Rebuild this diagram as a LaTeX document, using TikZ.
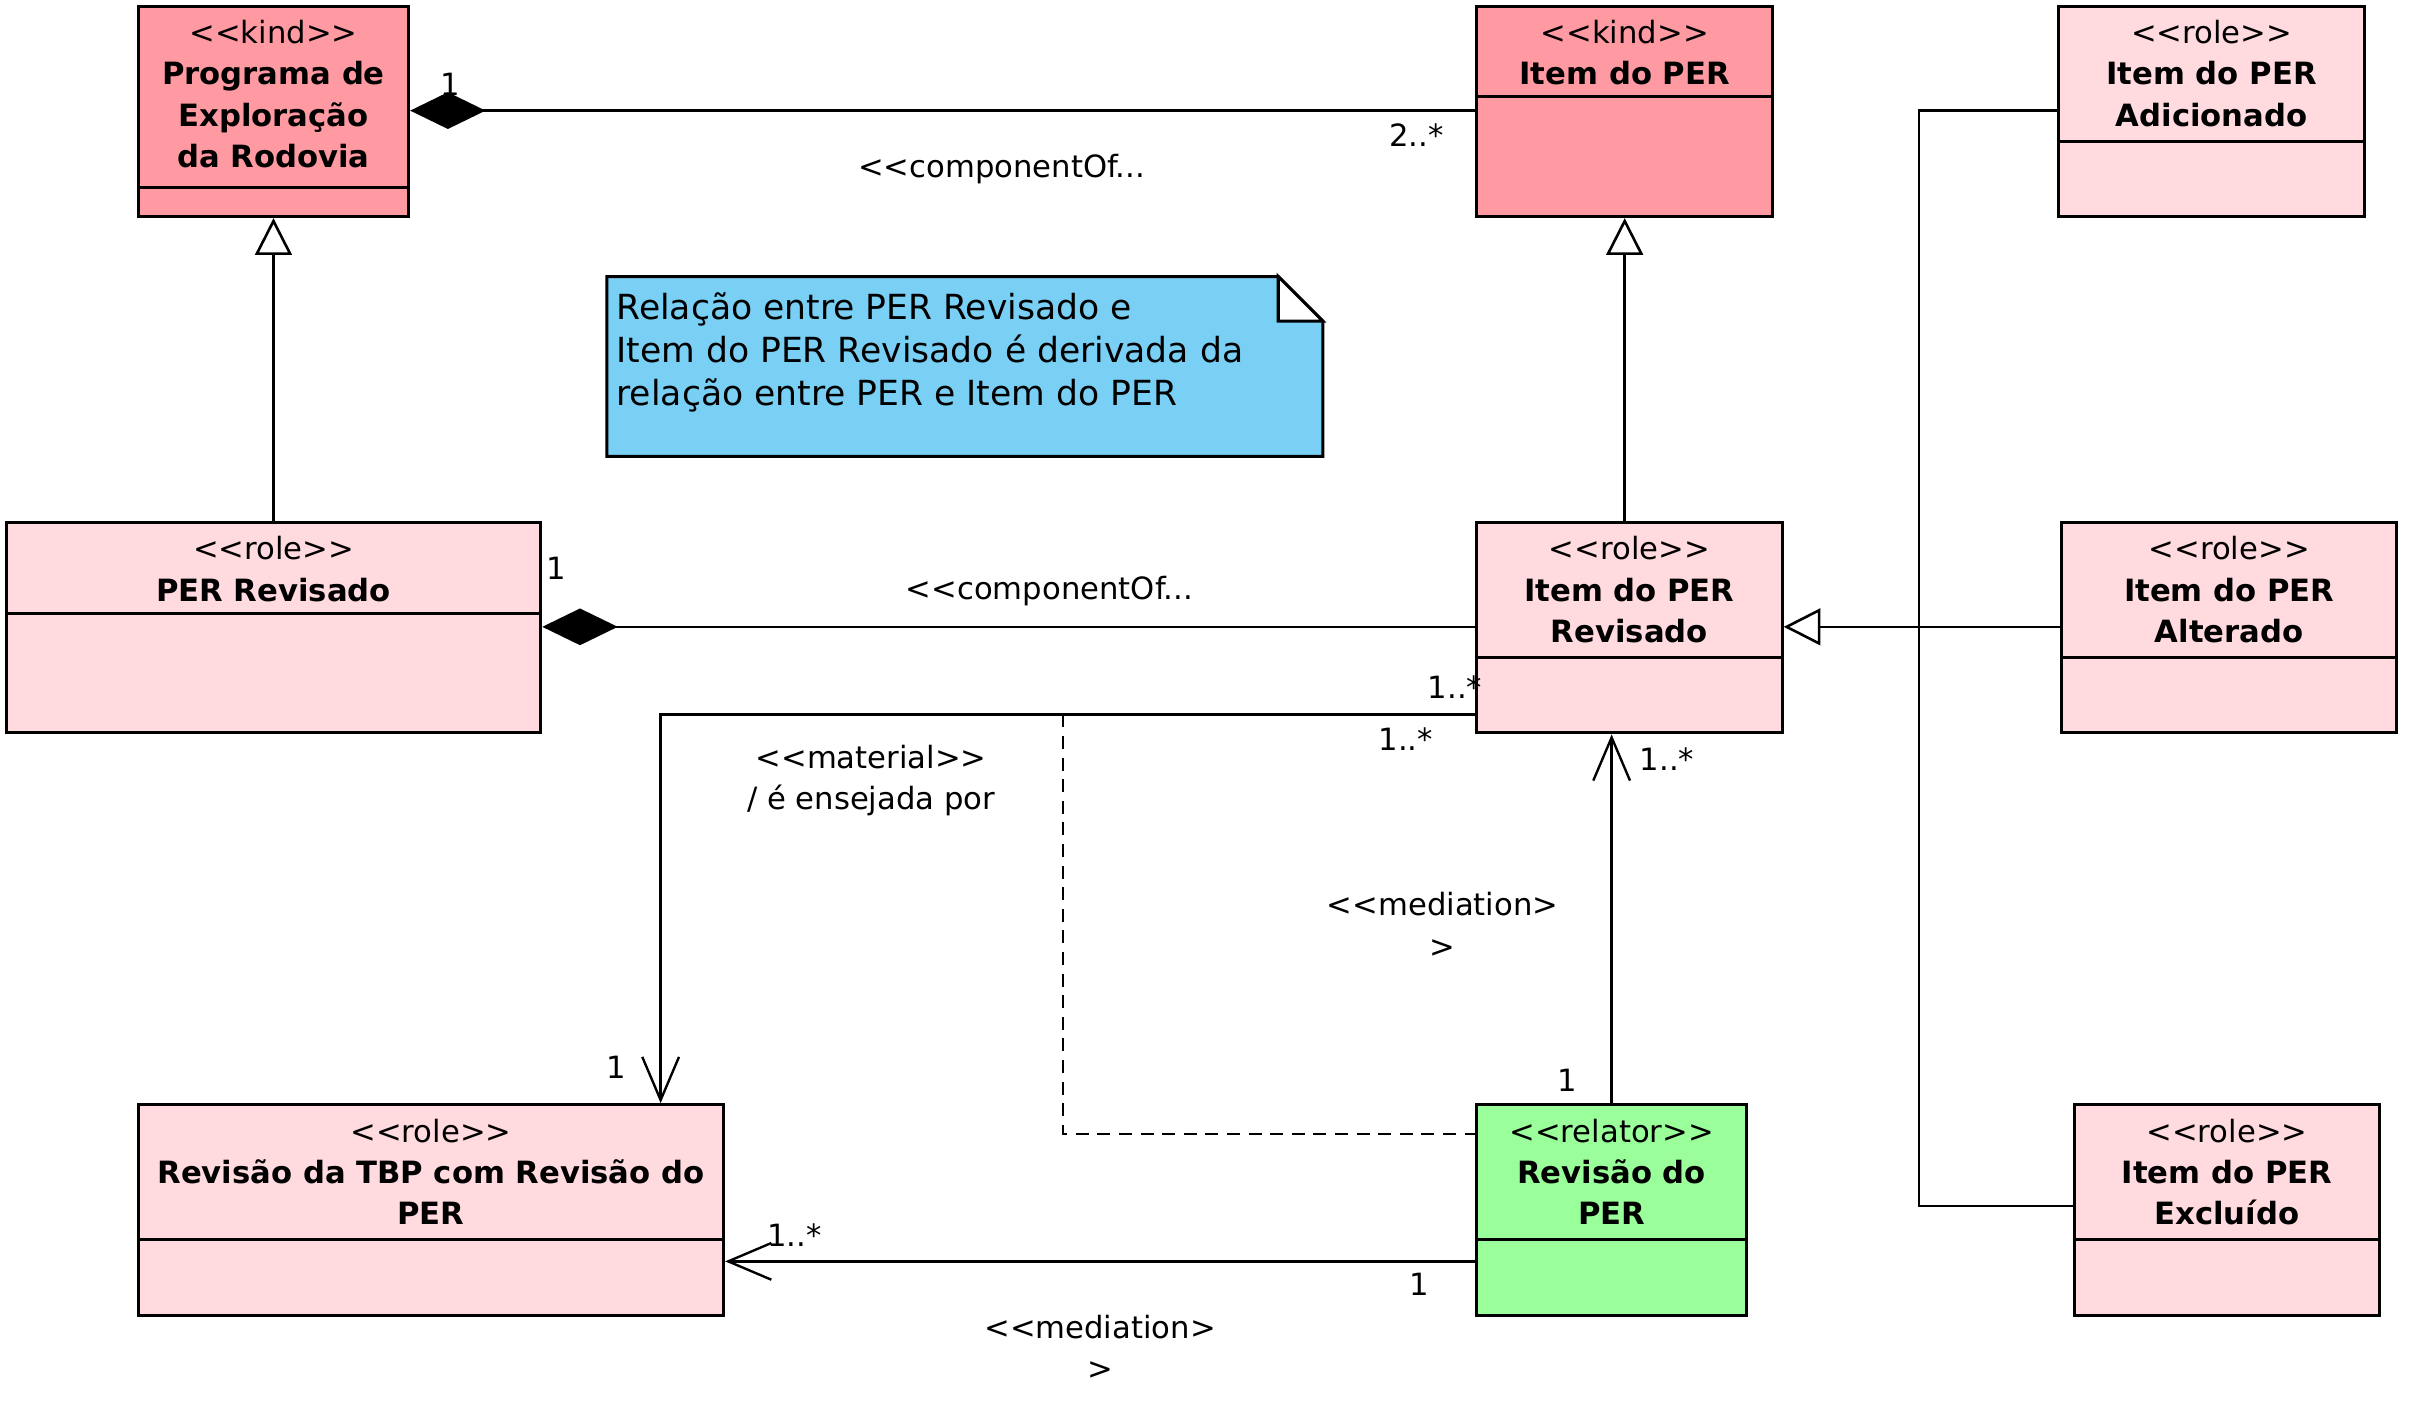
\documentclass[tikz,border=0pt]{standalone}
\usepackage{fontspec}
\setmainfont{DejaVu Sans}
\usetikzlibrary{arrows.meta,fit}
\definecolor{kindcol}{HTML}{FF9AA2}
\definecolor{rolecol}{HTML}{FFDADE}
\definecolor{relatorcol}{HTML}{9AFF9A}
\definecolor{notecol}{HTML}{7ACFF5}
% stereotype brackets, kept apart so they stay plain < and >
\newcommand{\stt}[1]{<\kern0pt<#1>\kern0pt>}
\tikzset{
  cls/.style={draw, line width=1.4pt, inner sep=0pt},
  txt/.style={font=\fontsize{14.2}{19.2}\selectfont, inner sep=0pt, align=center},
  head/.style={txt, anchor=north, yshift=-7pt},
  mult/.style={txt},
  compo/.style={{Diamond[length=34.9pt,width=17pt]}-, line width=1.2pt},
  gen/.style={-{Triangle[open,length=17pt,width=17pt]}, line width=1.2pt},
  assoc/.style={-{Straight Barb[length=20pt,width=17pt]}, line width=1.1pt},
}
\begin{document}
\begin{tikzpicture}[x=0.025cm, y=-0.025cm]
  \useasboundingbox (0,0) rectangle (1568,916);

  % classes
  \node[cls, fill=kindcol, fit={(90,4) (266,141)}] (prog) {};
  \node[cls, fill=kindcol, fit={(961,4) (1154,141)}] (item) {};
  \node[cls, fill=rolecol, fit={(1340,4) (1539,141)}] (itemadd) {};
  \node[cls, fill=rolecol, fit={(4,340) (352,477)}] (perrev) {};
  \node[cls, fill=rolecol, fit={(961,340) (1160,477)}] (itemrev) {};
  \node[cls, fill=rolecol, fit={(1342,340) (1560,477)}] (itemalt) {};
  \node[cls, fill=rolecol, fit={(90,719) (471,856)}] (tbp) {};
  \node[cls, fill=relatorcol, fit={(961,719) (1137,856)}] (revper) {};
  \node[cls, fill=rolecol, fit={(1350,719) (1549,856)}] (itemexc) {};

  \draw[line width=1.4pt] (prog.west |- 0,122) -- (prog.east |- 0,122);
  \draw[line width=1.4pt] (item.west |- 0,63) -- (item.east |- 0,63);
  \draw[line width=1.4pt] (itemadd.west |- 0,92) -- (itemadd.east |- 0,92);
  \draw[line width=1.4pt] (perrev.west |- 0,399) -- (perrev.east |- 0,399);
  \draw[line width=1.4pt] (itemrev.west |- 0,428) -- (itemrev.east |- 0,428);
  \draw[line width=1.4pt] (itemalt.west |- 0,428) -- (itemalt.east |- 0,428);
  \draw[line width=1.4pt] (tbp.west |- 0,807) -- (tbp.east |- 0,807);
  \draw[line width=1.4pt] (revper.west |- 0,807) -- (revper.east |- 0,807);
  \draw[line width=1.4pt] (itemexc.west |- 0,807) -- (itemexc.east |- 0,807);

  \node[head] (progtxt) at (prog.north) {\stt{kind}\\\textbf{Programa de}\\\textbf{Exploração}\\\textbf{da Rodovia}};
  \node[head] (itemtxt) at (item.north) {\stt{kind}\\\textbf{Item do PER}};
  \node[head] (itemaddtxt) at (itemadd.north) {\stt{role}\\\textbf{Item do PER}\\\textbf{Adicionado}};
  \node[head] (perrevtxt) at (perrev.north) {\stt{role}\\\textbf{PER Revisado}};
  \node[head] (itemrevtxt) at (itemrev.north) {\stt{role}\\\textbf{Item do PER}\\\textbf{Revisado}};
  \node[head] (itemalttxt) at (itemalt.north) {\stt{role}\\\textbf{Item do PER}\\\textbf{Alterado}};
  \node[head] (tbptxt) at (tbp.north) {\stt{role}\\\textbf{Revisão da TBP com Revisão do}\\\textbf{PER}};
  \node[head] (revpertxt) at (revper.north) {\stt{relator}\\\textbf{Revisão do}\\\textbf{PER}};
  \node[head] (itemexctxt) at (itemexc.north) {\stt{role}\\\textbf{Item do PER}\\\textbf{Excluído}};

  % note
  \draw[line width=1.4pt, fill=notecol] (395,180) -- (832,180) -- (861,209) -- (861,297) -- (395,297) -- cycle;
  \draw[line width=1.4pt, fill=white] (832,180) -- (861,209) -- (832,209) -- cycle;
  \node[txt, font=\fontsize{16}{19.9}\selectfont, anchor=north west, align=left] (notetxt) at (401,190) {Relação entre PER Revisado e\\Item do PER Revisado é derivada da\\relação entre PER e Item do PER};

  % composition
  \draw[compo] (prog.east |- 0,72) -- (item.west |- 0,72);
  \node[mult] (m1) at (293,55) {1};
  \node[mult] (m2) at (922,88) {2..*};
  \node[txt] (c1) at (652,110) {<\kern0pt<componentOf...};
  \draw[compo] (perrev.east |- 0,408) -- (itemrev.west |- 0,408);
  \node[mult] (m3) at (362,370) {1};
  \node[txt] (c2) at (683,385) {<\kern0pt<componentOf...};

  % generalization
  \draw[gen] (perrev.north) -- (prog.south);
  \draw[gen] (itemrev.north -| item.south) -- (item.south);
  \coordinate (genjoin) at (1249,408);
  \draw[gen] (itemalt.west |- genjoin) -- (itemrev.east |- genjoin);
  \draw[line width=1.2pt] (itemadd.west |- 0,72) -| (genjoin);
  \draw[line width=1.2pt] (itemexc.west |- 0,785) -| (genjoin);

  % material
  \draw[assoc] (itemrev.west |- 0,465) -| (tbp.north -| 430,0);
  \node[mult] (m4) at (947,447) {1..*};
  \node[mult] (m5) at (915,481) {1..*};
  \node[mult] (m6) at (401,695) {1};
  \node[txt] (mat) at (567,508) {\stt{material}\\/ é ensejada por};
  \coordinate (matmid) at (692,465);
  \draw[line width=1.1pt, dash pattern=on 6pt off 4pt] (matmid) |- (revper.west |- 0,738);

  % mediation
  \draw[assoc] (revper.north -| 1049,0) -- (itemrev.south -| 1049,0);
  \node[mult] (m7) at (1020,703) {1};
  \node[mult] (m8) at (1085,494) {1..*};
  \node[txt] (med1) at (939,602) {<\kern0pt<mediation>\\>};
  \draw[assoc] (revper.west |- 0,821) -- (tbp.east |- 0,821);
  \node[mult] (m9) at (517,804) {1..*};
  \node[mult] (m10) at (924,836) {1};
  \node[txt] (med2) at (716,877) {<\kern0pt<mediation>\\>};
\end{tikzpicture}
\end{document}
